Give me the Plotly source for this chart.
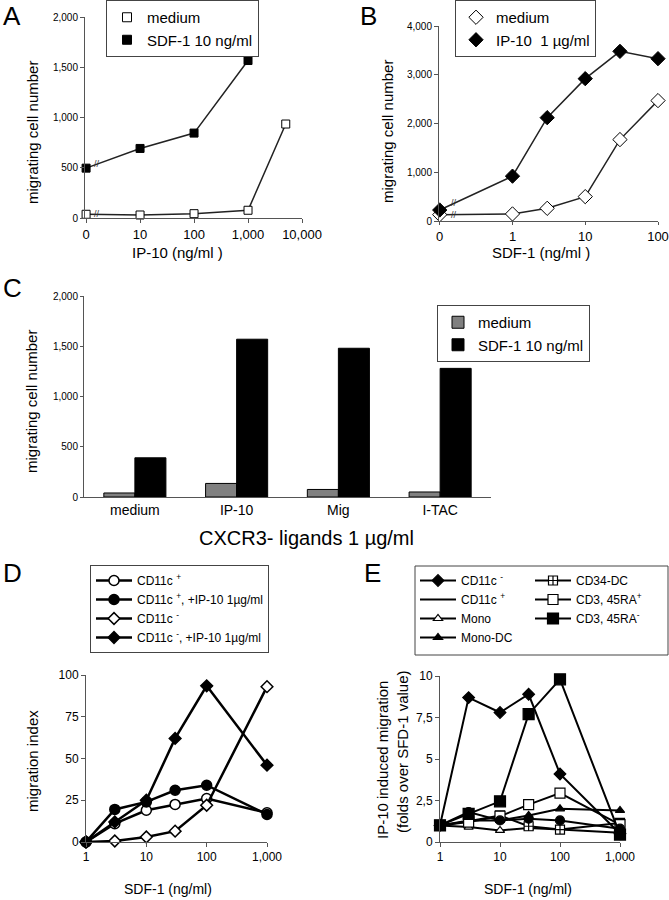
import math
import plotly.graph_objects as go

W, H = 669, 900
FONT = "Liberation Sans, Arial, sans-serif"

# ---------------- data ----------------
# Panel A: migration vs IP-10 dose
a_med_dose = [0, 10, 100, 1000, 5000]
a_medium = [37, 30, 43, 77, 935]
a_sdf_dose = [0, 10, 100, 1000]
a_sdf = [496, 692, 845, 1567]
a_xticks = [0, 10, 100, 1000, 10000]
a_xticktext = ["0", "10", "100", "1,000", "10,000"]

# Panel B: migration vs SDF-1 dose
b_dose = [0, 1, 3, 10, 30, 100]
b_medium = [130, 145, 260, 500, 1670, 2470]
b_ip10 = [225, 920, 2120, 2920, 3480, 3330]
b_xticks = [0, 1, 10, 100]
b_xticktext = ["0", "1", "10", "100"]

# Panel C: CXCR3 ligands
c_ligands = ["medium", "IP-10", "Mig", "I-TAC"]
c_medium = [40, 135, 75, 50]
c_sdf = [390, 1570, 1480, 1280]

# Panel D: migration index
d_dose = [1, 3, 10, 30, 100, 1000]
d_pos = [0, 11, 19, 22.5, 26, 17.5]
d_pos_ip10 = [0, 19.5, 24, 31, 34, 16.5]
d_neg = [0, 0.6, 3, 6.5, 22, 93]
d_neg_ip10 = [0, 12, 25, 62, 93.5, 46]

# Panel E: IP-10 induced migration (folds)
e_dose = [1, 3, 10, 30, 100, 1000]
e_cd11c_neg = [1, 8.7, 7.8, 8.9, 4.1, 0.5]
e_cd11c_pos = [1, 1.8, 1.3, 1.4, 1.3, 0.8]
e_mono = [1, 0.9, 0.7, 0.85, 0.75, 0.55]
e_mono_dc = [1, 1.3, 1.3, 1.6, 2.0, 1.9]
e_cd34_dc = [1, 1.25, 1.6, 0.95, 0.75, 1.15]
e_cd3_pos = [1, 1.2, 1.55, 2.25, 2.95, 1.05]
e_cd3_neg = [1, 1.7, 2.45, 7.7, 9.8, 0.45]
de_ticks = [1, 10, 100, 1000]
de_ticktext = ["1", "10", "100", "1,000"]


def zero_at(doses, low):
    """place the zero dose one decade below the lowest non-zero dose (broken axis)"""
    return [d if d > 0 else low for d in doses]


A_ZERO = 1
B_ZERO = 0.1

fig = go.Figure()

LINE = "#222"


def px_x(p):
    return p / W


def px_y(p):
    return 1 - p / H


# ---- Panel A ----
fig.add_trace(go.Scatter(x=zero_at(a_med_dose, A_ZERO), y=a_medium, mode="lines+markers",
                         line=dict(color=LINE, width=1.5),
                         marker=dict(symbol="square", size=8, color="white", line=dict(color="black", width=1)),
                         xaxis="x", yaxis="y", showlegend=False, cliponaxis=False))
fig.add_trace(go.Scatter(x=zero_at(a_sdf_dose, A_ZERO), y=a_sdf, mode="lines+markers",
                         line=dict(color=LINE, width=1.5),
                         marker=dict(symbol="square", size=8, color="black", line=dict(color="black", width=1)),
                         xaxis="x", yaxis="y", showlegend=False, cliponaxis=False))
fig.add_trace(go.Scatter(x=[None], y=[None], mode="markers", name="medium",
                         marker=dict(symbol="square", size=9, color="white", line=dict(color="black", width=1)),
                         xaxis="x", yaxis="y", legend="legend"))
fig.add_trace(go.Scatter(x=[None], y=[None], mode="markers", name="SDF-1 10 ng/ml",
                         marker=dict(symbol="square", size=9, color="black", line=dict(color="black", width=1)),
                         xaxis="x", yaxis="y", legend="legend"))

# ---- Panel B ----
fig.add_trace(go.Scatter(x=zero_at(b_dose, B_ZERO), y=b_medium, mode="lines+markers",
                         line=dict(color=LINE, width=1.5),
                         marker=dict(symbol="diamond", size=11, color="white", line=dict(color="black", width=1)),
                         xaxis="x2", yaxis="y2", showlegend=False, cliponaxis=False))
fig.add_trace(go.Scatter(x=zero_at(b_dose, B_ZERO), y=b_ip10, mode="lines+markers",
                         line=dict(color=LINE, width=1.5),
                         marker=dict(symbol="diamond", size=11, color="black", line=dict(color="black", width=1)),
                         xaxis="x2", yaxis="y2", showlegend=False, cliponaxis=False))
fig.add_trace(go.Scatter(x=[None], y=[None], mode="markers", name="medium",
                         marker=dict(symbol="diamond", size=11, color="white", line=dict(color="black", width=1)),
                         xaxis="x2", yaxis="y2", legend="legend2"))
fig.add_trace(go.Scatter(x=[None], y=[None], mode="markers", name="IP-10  1 µg/ml",
                         marker=dict(symbol="diamond", size=11, color="black", line=dict(color="black", width=1)),
                         xaxis="x2", yaxis="y2", legend="legend2"))

# ---- Panel C ----
fig.add_trace(go.Bar(x=c_ligands, y=c_medium, name="medium", marker=dict(color="#808080", line=dict(color="black", width=1)),
                     xaxis="x3", yaxis="y3", legend="legend3"))
fig.add_trace(go.Bar(x=c_ligands, y=c_sdf, name="SDF-1 10 ng/ml", marker=dict(color="black", line=dict(color="black", width=1)),
                     xaxis="x3", yaxis="y3", legend="legend3"))

# ---- Panel D ----
d_series = [
    ("CD11c <sup>+</sup>", d_pos, "circle", "white", 10),
    ("CD11c <sup>+</sup>, +IP-10 1µg/ml", d_pos_ip10, "circle", "black", 10),
    ("CD11c <sup>-</sup>", d_neg, "diamond", "white", 9),
    ("CD11c <sup>-</sup>, +IP-10 1µg/ml", d_neg_ip10, "diamond", "black", 9),
]
for i, (nm, vals, sym, col, sz) in enumerate(d_series):
    fig.add_trace(go.Scatter(x=d_dose, y=vals, mode="lines+markers", name=nm,
                             line=dict(color="black", width=2.5),
                             marker=dict(symbol=sym, size=sz, color=col, line=dict(color="black", width=1.5)),
                             xaxis="x4", yaxis="y4", legend="legend4", legendgroup="d%d" % i, cliponaxis=False))


# ---- Panel E ----
def e_trace(name, vals, sym, col, sz, leg, show=True):
    return go.Scatter(x=e_dose, y=vals, mode="lines+markers", name=name,
                      line=dict(color="black", width=2),
                      marker=dict(symbol=sym, size=sz, color=col, line=dict(color="black", width=1.2)),
                      xaxis="x5", yaxis="y5", legend=leg, showlegend=show, cliponaxis=False,
                      legendgroup=name)


fig.add_trace(e_trace("Mono", e_mono, "triangle-up", "white", 8, "legend5"))
fig.add_trace(e_trace("Mono-DC", e_mono_dc, "triangle-up", "black", 8, "legend5"))
fig.add_trace(e_trace("CD34-DC", e_cd34_dc, "square-cross", "white", 9, "legend6"))
fig.add_trace(e_trace("CD3, 45RA<sup>+</sup>", e_cd3_pos, "square", "white", 10, "legend6"))
fig.add_trace(e_trace("CD11c <sup>+</sup>", e_cd11c_pos, "circle", "black", 9, "legend5", show=False))
fig.add_trace(e_trace("CD3, 45RA<sup>-</sup>", e_cd3_neg, "square", "black", 11, "legend6"))
fig.add_trace(e_trace("CD11c <sup>-</sup>", e_cd11c_neg, "diamond", "black", 9, "legend5"))
fig.add_trace(go.Scatter(x=[None], y=[None], mode="lines", name="CD11c <sup>+</sup>",
                         line=dict(color="black", width=2), xaxis="x5", yaxis="y5",
                         legend="legend5", legendgroup="e_pos"))

# legend ordering for the two columns of panel E
E_ORDER5 = {"CD11c <sup>-</sup>": 1, "CD11c <sup>+</sup>": 2, "Mono": 3, "Mono-DC": 4}
E_ORDER6 = {"CD34-DC": 1, "CD3, 45RA<sup>+</sup>": 2, "CD3, 45RA<sup>-</sup>": 3}
for tr in fig.data:
    if tr.legend == "legend5":
        tr.legendrank = E_ORDER5.get(tr.name, 5)
    if tr.legend == "legend6":
        tr.legendrank = E_ORDER6.get(tr.name, 5)

# ---------------- axes ----------------
AX = dict(showline=True, linecolor="#555", linewidth=1, ticks="outside", ticklen=4, tickcolor="#555",
          showgrid=False, zeroline=False, automargin=False, tickfont=dict(family=FONT, color="black"))


def ax(**kw):
    d = dict(AX)
    d.update(kw)
    return d


layout = dict(
    template="none",
    width=W, height=H, margin=dict(l=0, r=0, t=0, b=0, autoexpand=False),
    paper_bgcolor="white", plot_bgcolor="white",
    font=dict(family=FONT, color="black"),
    barmode="group", bargap=0.39, bargroupgap=0,
    xaxis=ax(domain=[px_x(85), px_x(302)], type="log", range=[-0.02, 4.0], anchor="y",
             tickvals=zero_at(a_xticks, A_ZERO), ticktext=a_xticktext, tickfont=dict(size=13, family=FONT)),
    yaxis=ax(domain=[px_y(218), px_y(17)], range=[0, 2000], anchor="x",
             tickvals=[0, 500, 1000, 1500, 2000], tickformat=",", tickfont=dict(size=10, family=FONT)),
    xaxis2=ax(domain=[px_x(439), px_x(658)], type="log", range=[-1.01, 2.0], anchor="y2", ticklen=3,
              tickvals=zero_at(b_xticks, B_ZERO), ticktext=b_xticktext, tickfont=dict(size=13, family=FONT)),
    yaxis2=ax(domain=[px_y(221), px_y(26)], range=[0, 4000], anchor="x2",
              tickvals=[0, 1000, 2000, 3000, 4000], tickformat=",", tickfont=dict(size=10, family=FONT)),
    xaxis3=ax(domain=[px_x(84), px_x(491)], anchor="y3", ticks="", tickfont=dict(size=14, family=FONT)),
    yaxis3=ax(domain=[px_y(497), px_y(296)], range=[0, 2000], anchor="x3", ticklen=3,
              tickvals=[0, 500, 1000, 1500, 2000], tickformat=",", tickfont=dict(size=10, family=FONT)),
    xaxis4=ax(domain=[px_x(86), px_x(267)], type="log", range=[0, 3], anchor="y4",
              tickvals=de_ticks, ticktext=de_ticktext, tickfont=dict(size=12, family=FONT)),
    yaxis4=ax(domain=[px_y(842), px_y(675)], range=[0, 100], anchor="x4",
              tickvals=[0, 25, 50, 75, 100], tickfont=dict(size=12, family=FONT)),
    xaxis5=ax(domain=[px_x(440), px_x(620)], type="log", range=[0, 3], anchor="y5",
              tickvals=de_ticks, ticktext=de_ticktext, tickfont=dict(size=12, family=FONT)),
    yaxis5=ax(domain=[px_y(842), px_y(676)], range=[0, 10], anchor="x5",
              tickvals=[0, 2.5, 5, 7.5, 10], ticktext=["0", "2,5", "5", "7,5", "10"],
              tickfont=dict(size=12, family=FONT)),
)


def leg(xpx, ypx, size, border=True, **kw):
    d = dict(x=px_x(xpx), y=px_y(ypx), xanchor="left", yanchor="top",
             bgcolor="rgba(255,255,255,0)", bordercolor="#444", borderwidth=1 if border else 0,
             font=dict(size=size, family=FONT, color="black"), itemwidth=30, tracegroupgap=0,
             traceorder="normal")
    d.update(kw)
    return d


layout["legend"] = leg(106, 0, 15)
layout["legend2"] = leg(455, 0, 15)
layout["legend3"] = leg(437, 305, 15)
layout["legend4"] = leg(90, 565, 12, itemwidth=36, tracegroupgap=2)
layout["legend5"] = leg(415, 566, 12, border=False, itemwidth=36, tracegroupgap=1)
layout["legend6"] = leg(530, 566, 12, border=False, itemwidth=36, tracegroupgap=1)

fig.update_layout(**layout)

# box around the two-column legend of panel E
fig.add_shape(type="rect", xref="paper", yref="paper", x0=px_x(415), x1=px_x(668),
              y0=px_y(655), y1=px_y(566), line=dict(color="#444", width=1))


def ann(text, xpx, ypx, size, angle=0):
    fig.add_annotation(text=text, x=px_x(xpx), y=px_y(ypx), xref="paper", yref="paper", showarrow=False,
                       xanchor="center", yanchor="middle", textangle=angle,
                       font=dict(size=size, family=FONT, color="black"))


# panel letters
ann("A", 12, 16, 26)
ann("B", 368, 16, 26)
ann("C", 12, 288, 26)
ann("D", 12, 573, 26)
ann("E", 372, 573, 26)

# axis titles
ann("IP-10 (ng/ml )", 177, 253, 15)
ann("migrating cell number", 32, 133, 15, -90)
ann("SDF-1 (ng/ml )", 541, 252, 15)
ann("migrating cell number", 387, 132, 15, -90)
ann("migrating cell number", 31, 402, 15, -90)
ann("CXCR3- ligands 1 µg/ml", 306, 538, 20)
ann("migration index", 32, 761, 15, -90)
ann("SDF-1 (ng/ml)", 168, 889, 14)
ann("IP-10 induced migration", 382, 760, 15, -90)
ann("(folds over SFD-1 value)", 402, 752, 15, -90)
ann("SDF-1 (ng/ml)", 528, 889, 14)


# axis-break marks on the lines, computed from the data (between the zero dose and the next dose)
def brk(xref, yref, zero, nxt, y0, y1, frac=0.2):
    lx = math.log10(zero) + frac * (math.log10(nxt) - math.log10(zero))
    yb = y0 + frac * (y1 - y0)
    fig.add_annotation(text="//", x=lx, y=yb, xref=xref, yref=yref, showarrow=False,
                       font=dict(size=9, family=FONT, color="#333"))


brk("x", "y", A_ZERO, a_med_dose[1], a_medium[0], a_medium[1])
brk("x", "y", A_ZERO, a_sdf_dose[1], a_sdf[0], a_sdf[1])
brk("x2", "y2", B_ZERO, b_dose[1], b_medium[0], b_medium[1])
brk("x2", "y2", B_ZERO, b_dose[1], b_ip10[0], b_ip10[1])

fig.write_html("out.html", config={"displayModeBar": False},
               post_script="document.body.style.margin='0';document.body.style.overflow='hidden';")
